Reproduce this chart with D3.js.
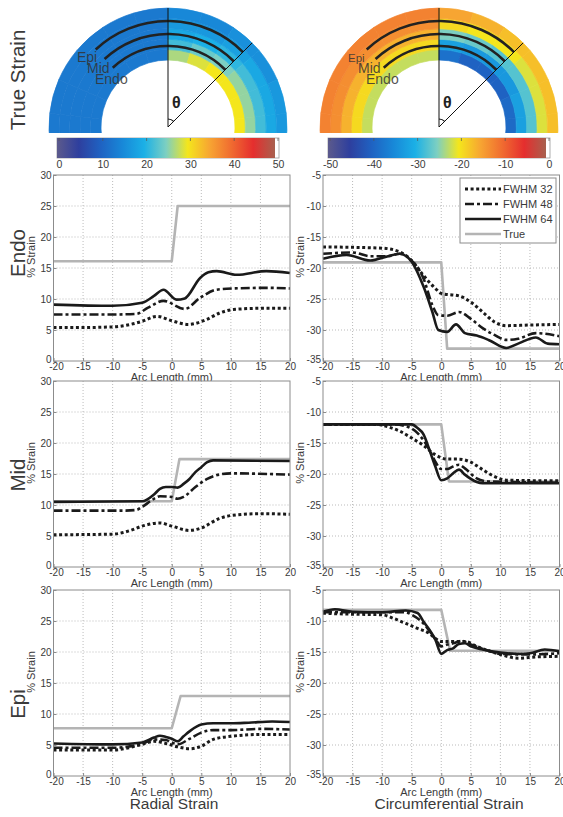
<!DOCTYPE html>
<html>
<head>
<meta charset="utf-8">
<script src="https://cdnjs.cloudflare.com/ajax/libs/d3/7.8.5/d3.min.js"></script>
<style>
body { margin: 0; background: #fff; }
text { font-family: Arial, 'Liberation Sans', sans-serif; }
</style>
</head>
<body>
<script>

// ---- data ----
var arcTicks = [-20, -15, -10, -5, 0, 5, 10, 15, 20]
var radialTicks = [0, 5, 10, 15, 20, 25, 30]
var circTicks = [-35, -30, -25, -20, -15, -10, -5]
var radialBarTicks = [0, 10, 20, 30, 40, 50]
var circBarTicks = [-50, -40, -30, -20, -10, 0]
var seriesNames = ['FWHM 32', 'FWHM 48', 'FWHM 64', 'True']
var rowNames = ['Endo', 'Mid', 'Epi']
var layerNames = ['Epi', 'Mid', 'Endo']

// true strain maps: layers inner -> outer, 15 deg sectors left -> right
var radialRing = [
    [13, 13, 13, 13, 13, 13, 27, 29, 30, 30, 30, 30],
    [13, 13, 13, 13, 13, 13, 22, 24, 25, 26, 26, 26],
    [13, 13, 13, 13, 13, 13, 19, 20, 21, 22, 22, 22],
    [13, 13, 13, 13, 13, 13, 17, 17, 18, 19, 19, 19],
    [13, 13, 13, 13, 13, 13, 15, 15, 16, 16, 17, 17]
]
var circRing = [
    [-22, -22, -22, -22, -22, -22, -38, -40, -40, -40, -39, -39],
    [-19, -19, -19, -19, -19, -19, -32, -33, -33, -33, -32, -32],
    [-16, -16, -16, -16, -16, -16, -25, -26, -27, -27, -27, -27],
    [-13, -13, -13, -13, -13, -13, -19, -20, -20, -21, -21, -21],
    [-12, -12, -12, -12, -12, -12, -15, -16, -17, -17, -17, -17]
]

// [arc length mm, % strain]
var endoRad32 = [[-20,5.4],[-15,5.4],[-10,5.5],[-7,5.9],[-5,6.4],[-2.5,7.2],[0,6.5],[2.8,5.9],[5.9,6.7],[8,7.7],[10.4,8.3],[15,8.5],[20,8.5]]
var endoRad48 = [[-20,7.5],[-10,7.5],[-6,7.6],[-4,8.6],[-1.4,9.7],[2.2,8.4],[4.8,10.2],[7.6,11.5],[10.4,11.7],[16,11.8],[20,11.7]]
var endoRad64 = [[-20,9.1],[-10,8.9],[-5,9.4],[-3,10.5],[-1.4,11.5],[0.8,9.9],[2.2,10.1],[4.8,13.4],[6.2,14.3],[7.6,14.5],[11,13.9],[16,14.5],[20,14.2]]
var endoRadTrue = [[-20,16.1],[0,16.1],[1,25],[20,25]]

var endoCirc32 = [[-20,-16.6],[-10,-16.8],[-7,-17.4],[-5,-18.8],[-3,-21.2],[-1,-23.3],[0,-24.1],[3,-24.5],[5,-25.5],[7,-27.1],[9,-28.7],[11,-29.3],[15,-29.2],[20,-29.1]]
var endoCirc48 = [[-20,-17.7],[-15,-17.5],[-12,-18.1],[-9,-18.1],[-7,-17.7],[-5,-18.8],[-3,-21.7],[-1.5,-26],[-0.5,-27.6],[1,-27.7],[3,-27.1],[5,-28.2],[7,-29.7],[9,-30.8],[11,-31.6],[13,-31.4],[16,-30.5],[20,-31]]
var endoCirc64 = [[-20,-18.5],[-16,-17.9],[-12,-18.8],[-9,-18.1],[-7,-17.7],[-5,-19],[-3,-23],[-1.5,-27.1],[-0.5,-30],[1,-30.3],[2.5,-29.1],[4,-30.5],[6,-30.9],[8,-31.6],[11,-32.9],[13,-32.2],[16,-31.2],[18,-32.2],[20,-32.3]]
var endoCircTrue = [[-20,-19.1],[0,-19.1],[1,-33],[20,-33]]

var midRad32 = [[-20,5.2],[-10,5.3],[-7,5.9],[-5,6.6],[-2,7.1],[0,6.6],[3,5.9],[5,6.3],[8,7.8],[10,8.3],[15,8.6],[20,8.5]]
var midRad48 = [[-20,9.1],[-8,9.1],[-6,9.2],[-5,9.7],[-3,11],[-2,11.4],[0,11.3],[1,11],[2,11.3],[4,12.9],[6,14.2],[8,14.9],[10,15.1],[20,14.9]]
var midRad64 = [[-20,10.5],[-5,10.6],[-3,11.7],[-2,12.6],[-1,12.9],[0,12.9],[1,12.8],[2,13.4],[3,14.2],[4,15.3],[5,16.1],[6,16.9],[7,17.2],[20,17.1]]
var midRadTrue = [[-20,10.6],[0,10.6],[1.3,17.4],[20,17.4]]

var midCirc32 = [[-20,-12],[-11,-12],[-9,-12.4],[-7,-13.1],[-5,-14.2],[-3,-15.4],[-1,-16.9],[1,-17.6],[3,-17.6],[5,-18.1],[7,-19.3],[9,-20.4],[11,-21],[20,-21.1]]
var midCirc48 = [[-20,-12],[-8,-12],[-6,-12.3],[-4,-13.4],[-2,-16.1],[-1,-18],[0,-19.2],[1,-19.2],[2,-18.8],[3,-18.5],[4,-19.1],[6,-20.7],[8,-21.2],[20,-21.4]]
var midCirc64 = [[-20,-12],[-5,-12],[-4,-12.6],[-3,-13.6],[-2,-16.1],[-1,-18.8],[0,-21],[1,-20.7],[2,-19.9],[3,-19.3],[4,-20.1],[5,-20.8],[6,-21.3],[7,-21.5],[20,-21.5]]
var midCircTrue = [[-20,-12],[0,-12],[1.3,-21.2],[20,-21.2]]

var epiRad32 = [[-20,4.2],[-10,4.2],[-5,5.1],[-3,5.6],[-1,5.25],[1,4.7],[3,4.4],[5,4.8],[7,5.9],[10,6.4],[15,6.7],[20,6.7]]
var epiRad48 = [[-20,4.55],[-10,4.55],[-5,5.2],[-3,5.9],[-1,5.8],[0,5.4],[1,5.1],[3,6],[5,7],[7,7.4],[10,7.4],[15,7.6],[20,7.5]]
var epiRad64 = [[-20,5.25],[-10,5.1],[-5,5.4],[-3,6.2],[-2,6.5],[-1,6.3],[0,6],[1,5.6],[2,6.4],[3,7.2],[5,8.3],[7,8.5],[10,8.5],[13,8.6],[17,8.8],[20,8.7]]
var epiRadTrue = [[-20,7.7],[0,7.7],[1.5,12.9],[20,12.9]]

var epiCirc32 = [[-20,-8.75],[-15,-8.9],[-10,-9],[-8,-9.6],[-6,-10.4],[-4,-11.2],[-2,-12],[-1,-12.8],[0,-13.3],[2,-13.3],[4,-13.3],[6,-14.1],[8,-14.8],[10,-15.4],[13,-16],[16,-15.8],[20,-15.7]]
var epiCirc48 = [[-20,-8.6],[-6,-8.6],[-5,-9],[-3,-10.4],[-1,-12.9],[0,-14.1],[1,-13.8],[2,-13.6],[3.5,-13.2],[5,-13.8],[8,-14.8],[10,-15.3],[15,-15.4],[20,-15.2]]
var epiCirc64 = [[-20,-8.5],[-18,-8.1],[-15,-8.5],[-10,-8.6],[-6,-8.3],[-4,-8.7],[-3,-10.1],[-2,-11.4],[-1,-13],[0,-15.3],[1,-14.7],[2,-14.4],[3,-13.7],[4,-13.6],[5,-14.1],[7,-14.6],[10,-15.1],[13,-15.3],[15,-15.2],[17.5,-14.6],[20,-14.9]]
var epiCircTrue = [[-20,-8.2],[0,-8.2],[1.5,-14.8],[20,-14.8]]

// ---- styles ----
var mapStops = ['#5c5a8c', '#2e3f9e', '#1f62c2', '#1888d8', '#1bb0e6', '#7ccfc2', '#f4e61c', '#f7a532', '#f06b30', '#e52e2e', '#a8604e']
var lineStyles = [
    { color: '#1a1a1a', width: 3, dash: '3,2.6' },
    { color: '#1a1a1a', width: 2.6, dash: '9,3,3,3' },
    { color: '#1a1a1a', width: 2.6, dash: null },
    { color: '#b4b4b4', width: 2.6, dash: null }
]
var textColor = '#3a3a3a'
var plain = d => String(d)   // hyphen minus like the original, not U+2212

var svg = d3.select('body')
                .append('svg')
                    .attr('width', 563)
                    .attr('height', 817)

function mapColor(lo, hi) {
    var step = (hi - lo) / (mapStops.length - 1)
    return d3.scaleLinear()
                .domain(mapStops.map((c, i) => lo + i * step))
                .range(mapStops)
                .clamp(true)
}

function drawStrainMap(cx, cy, ring, lo, hi, barTicks, labelSizes, id) {

    var innerR = 67
    var outerR = 119
    var color = mapColor(lo, hi)

    svg.append('clipPath')
            .attr('id', 'clip-' + id)
        .append('rect')
            .attr('x', cx - 130).attr('y', 0)
            .attr('width', 260).attr('height', 133)

    var g = svg.append('g')
                .attr('clip-path', 'url(#clip-' + id + ')')
                .append('g')
                    .attr('transform', 'translate(' + cx + ',' + cy + ')')

    var angle = d3.scaleBand()
                    .domain(d3.range(ring[0].length))
                    .range([-100 * Math.PI / 180, 100 * Math.PI / 180])
    var radius = d3.scaleBand()
                    .domain(d3.range(ring.length))
                    .range([innerR, outerR])

    var cells = []
    ring.forEach(function(row, li) {
        row.forEach(function(v, si) { cells.push({ li: li, si: si, v: v }) })
    })

    var arc = d3.arc()
                .innerRadius(d => radius(d.li))
                .outerRadius(d => radius(d.li) + radius.bandwidth())
                .startAngle(d => angle(d.si))
                .endAngle(d => angle(d.si) + angle.bandwidth())

    g.selectAll('path.cell')
        .data(cells)
        .enter()
            .append('path')
                .classed('cell', true)
                .attr('d', arc)
                .attr('fill', d => color(d.v))
                .attr('stroke', d => color(d.v))
                .attr('stroke-width', 0.7)

    // epi / mid / endo contours
    var contourR = [106, 93, 81]
    var contour = d3.arc()
                    .innerRadius(d => d)
                    .outerRadius(d => d)
                    .startAngle(-43 * Math.PI / 180)
                    .endAngle(45 * Math.PI / 180)
    g.selectAll('path.contour')
        .data(contourR)
        .enter()
            .append('path')
                .classed('contour', true)
                .attr('d', contour)
                .attr('fill', 'none')
                .attr('stroke', '#222')
                .attr('stroke-width', 2.6)

    // theta construction
    var tip = 45 * Math.PI / 180
    g.append('line')
        .attr('x1', 0).attr('y1', 0).attr('x2', 0).attr('y2', -outerR)
        .attr('stroke', '#111').attr('stroke-width', 1)
    g.append('line')
        .attr('x1', 0).attr('y1', 0)
        .attr('x2', outerR * Math.sin(tip)).attr('y2', -outerR * Math.cos(tip))
        .attr('stroke', '#111').attr('stroke-width', 1)
    g.append('path')
        .attr('d', d3.arc()({ innerRadius: 8, outerRadius: 8, startAngle: 0, endAngle: tip }))
        .attr('fill', 'none').attr('stroke', '#111').attr('stroke-width', 1.2)
    g.append('text')
        .text('θ')
        .attr('x', 4).attr('y', -19)
        .style('font-size', '16px')
        .style('font-weight', 'bold')
        .attr('fill', '#222')

    var labelPos = [[-91, -65], [-81, -54], [-73, -43]]
    layerNames.forEach(function(name, i) {
        g.append('text')
            .text(name)
            .attr('x', labelPos[i][0])
            .attr('y', labelPos[i][1])
            .style('font-size', labelSizes[i] + 'px')
            .attr('fill', '#333')
            .attr('fill-opacity', 0.85)
    })

    // colour bar
    var barLeft = cx - 111
    var barRight = cx + 111
    var barScale = d3.scaleLinear()
                        .domain([lo, hi])
                        .range([barLeft + 2, barRight - 1])

    var grad = svg.append('defs')
                    .append('linearGradient')
                        .attr('id', 'grad-' + id)
    mapStops.forEach(function(c, i) {
        grad.append('stop')
            .attr('offset', (i / (mapStops.length - 1) * 100) + '%')
            .attr('stop-color', c)
    })

    svg.append('rect')
        .attr('x', barLeft).attr('y', 138)
        .attr('width', barRight - barLeft).attr('height', 20)
        .attr('fill', '#fff').attr('stroke', '#999').attr('stroke-width', 0.8)
    svg.append('rect')
        .attr('x', barLeft).attr('y', 138)
        .attr('width', barRight - barLeft - 4).attr('height', 20)
        .attr('fill', 'url(#grad-' + id + ')')

    var barAxis = d3.axisBottom(barScale)
                    .tickValues(barTicks)
                    .tickFormat(plain)
                    .tickSize(0)
                    .tickPadding(3)
    var ax = svg.append('g')
                .attr('transform', 'translate(0,158)')
                .call(barAxis)
    ax.select('.domain').remove()
    ax.selectAll('text')
        .style('font-size', '10.5px')
        .attr('fill', textColor)

    svg.selectAll('line.bartick-' + id)
        .data(barTicks)
        .enter()
            .append('line')
                .attr('x1', d => barScale(d)).attr('x2', d => barScale(d))
                .attr('y1', 138).attr('y2', 141)
                .attr('stroke', '#555').attr('stroke-width', 0.7)
}

function drawPanel(left, top, yDomain, yTicks, lines, withLegend) {

    var width = 236.5
    var height = 186

    var xscale = d3.scaleLinear()
                    .domain([-20, 20])
                    .range([left, left + width])
    var yscale = d3.scaleLinear()
                    .domain(yDomain)
                    .range([top + height, top])

    var g = svg.append('g')

    g.append('rect')
        .attr('x', left).attr('y', top)
        .attr('width', width).attr('height', height)
        .attr('fill', '#fff')

    // dotted grid
    g.selectAll('line.gx')
        .data(arcTicks.slice(1, -1))
        .enter()
            .append('line')
                .attr('x1', d => xscale(d)).attr('x2', d => xscale(d))
                .attr('y1', top).attr('y2', top + height)
                .attr('stroke', '#aaa').attr('stroke-width', 0.8)
                .attr('stroke-dasharray', '1,2')
    g.selectAll('line.gy')
        .data(yTicks.slice(1, -1))
        .enter()
            .append('line')
                .attr('x1', left).attr('x2', left + width)
                .attr('y1', d => yscale(d)).attr('y2', d => yscale(d))
                .attr('stroke', '#aaa').attr('stroke-width', 0.8)
                .attr('stroke-dasharray', '1,2')

    var line = d3.line()
                .x(d => xscale(d[0]))
                .y(d => yscale(d[1]))
                .curve(d3.curveMonotoneX)
    var stepLine = d3.line()
                .x(d => xscale(d[0]))
                .y(d => yscale(d[1]))

    // true first so the estimates sit on top
    var order = [3, 0, 1, 2]
    order.forEach(function(i) {
        var st = lineStyles[i]
        g.append('path')
            .attr('d', i == 3 ? stepLine(lines[i]) : line(lines[i]))
            .attr('fill', 'none')
            .attr('stroke', st.color)
            .attr('stroke-width', st.width)
            .attr('stroke-dasharray', st.dash)
            .attr('stroke-linejoin', 'round')
    })

    g.append('rect')
        .attr('x', left).attr('y', top)
        .attr('width', width).attr('height', height)
        .attr('fill', 'none')
        .attr('stroke', '#8c8c8c').attr('stroke-width', 1)

    var y_axis = d3.axisLeft(yscale).tickValues(yTicks).tickFormat(plain).tickSize(-3).tickPadding(2)
    var x_axis = d3.axisBottom(xscale).tickValues(arcTicks).tickFormat(plain).tickSize(-3).tickPadding(2)

    var ya = g.append('g')
                .attr('transform', 'translate(' + left + ',0)')
                .call(y_axis)
    var xa = g.append('g')
                .attr('transform', 'translate(0,' + (top + height) + ')')
                .call(x_axis)

    ;[ya, xa].forEach(function(a) {
        a.select('.domain').remove()
        a.selectAll('.tick line').attr('stroke', '#8c8c8c')
        a.selectAll('text')
            .style('font-size', '10px')
            .attr('fill', textColor)
    })

    // bottom-left corner: lift the y "0"/"-35" a little, like the original
    ya.selectAll('.tick text').filter(d => d == yDomain[0]).attr('dy', '0.1em')
    xa.selectAll('.tick text').filter(d => d == -20).attr('dx', '0.25em')

    g.append('text')
        .text('Arc Length (mm)')
        .attr('x', xscale(0))
        .attr('y', top + height + 20)
        .attr('text-anchor', 'middle')
        .style('font-size', '11px')
        .attr('fill', textColor)

    g.append('text')
        .text('% Strain')
        .attr('transform', 'translate(' + (left - 19) + ',' + (top + height / 2 - 11) + ') rotate(-90)')
        .attr('text-anchor', 'middle')
        .style('font-size', '11px')
        .attr('fill', textColor)

    if (withLegend) {
        var lx = 460, ly = 178
        g.append('rect')
            .attr('x', lx).attr('y', ly)
            .attr('width', 96).attr('height', 65)
            .attr('fill', '#fff')
            .attr('stroke', '#8c8c8c').attr('stroke-width', 1)
        seriesNames.forEach(function(name, i) {
            var st = lineStyles[i]
            var yy = ly + 11 + i * 15
            g.append('line')
                .attr('x1', lx + 5).attr('x2', lx + 41)
                .attr('y1', yy).attr('y2', yy)
                .attr('stroke', st.color)
                .attr('stroke-width', st.width)
                .attr('stroke-dasharray', st.dash)
            g.append('text')
                .text(name)
                .attr('x', lx + 43)
                .attr('y', yy + 4)
                .style('font-size', '11px')
                .attr('fill', textColor)
        })
    }
}

drawStrainMap(168, 127, radialRing, 0, 50, radialBarTicks, [14, 14, 14], 'radial')
drawStrainMap(439, 127, circRing, -50, 0, circBarTicks, [11.5, 14, 14], 'circ')

var rowTops = [175, 381, 590]
var radialRows = [
    [endoRad32, endoRad48, endoRad64, endoRadTrue],
    [midRad32, midRad48, midRad64, midRadTrue],
    [epiRad32, epiRad48, epiRad64, epiRadTrue]
]
var circRows = [
    [endoCirc32, endoCirc48, endoCirc64, endoCircTrue],
    [midCirc32, midCirc48, midCirc64, midCircTrue],
    [epiCirc32, epiCirc48, epiCirc64, epiCircTrue]
]

rowTops.forEach(function(top, r) {
    drawPanel(53.5, top, [0, 30], radialTicks, radialRows[r], false)
    drawPanel(323, top, [-35, -5], circTicks, circRows[r], r == 0)
})

// big row titles
var titleY = [80, 253, 475, 704]
var titles = ['True Strain'].concat(rowNames)
titles.forEach(function(t, i) {
    svg.append('text')
        .text(t)
        .attr('transform', 'translate(25,' + titleY[i] + ') rotate(-90)')
        .attr('text-anchor', 'middle')
        .style('font-size', '20.5px')
        .attr('fill', textColor)
})

svg.append('text')
    .text('Radial Strain')
    .attr('x', 174).attr('y', 809)
    .attr('text-anchor', 'middle')
    .style('font-size', '15.5px')
    .attr('fill', textColor)
svg.append('text')
    .text('Circumferential Strain')
    .attr('x', 449).attr('y', 809)
    .attr('text-anchor', 'middle')
    .style('font-size', '15.5px')
    .attr('fill', textColor)

</script>
</body>
</html>
